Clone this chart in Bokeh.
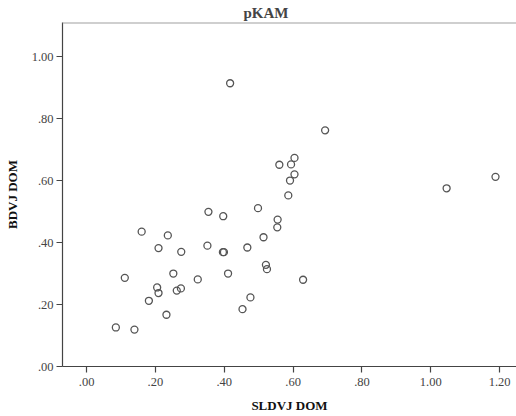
from bokeh.plotting import figure
from bokeh.models import Range1d, Span, FixedTicker
from bokeh.embed import file_html
from bokeh.resources import INLINE

sldvj_dom = [0.417, 0.560, 0.594, 0.604, 0.604, 0.591, 0.586, 0.498, 0.354, 0.397,
             0.555, 0.554, 0.160, 0.236, 0.514, 0.209, 0.275, 0.351, 0.396, 0.399,
             0.467, 0.521, 0.524, 0.252, 0.411, 0.323, 0.629, 0.111, 0.205, 0.209,
             0.262, 0.274, 0.181, 0.476, 0.453, 0.232, 0.085, 0.139, 0.693, 1.188,
             1.046]
bdvj_dom = [0.914, 0.651, 0.652, 0.673, 0.620, 0.600, 0.552, 0.511, 0.499, 0.485,
            0.474, 0.449, 0.435, 0.423, 0.417, 0.382, 0.370, 0.390, 0.369, 0.369,
            0.384, 0.328, 0.314, 0.300, 0.300, 0.281, 0.280, 0.286, 0.255, 0.237,
            0.245, 0.252, 0.212, 0.223, 0.185, 0.167, 0.126, 0.119, 0.762, 0.612,
            0.575]

x_ticks = [0.0, 0.2, 0.4, 0.6, 0.8, 1.0, 1.2]
x_tick_labels = [".00", ".20", ".40", ".60", ".80", "1.00", "1.20"]
y_ticks = [0.0, 0.2, 0.4, 0.6, 0.8, 1.0]
y_tick_labels = [".00", ".20", ".40", ".60", ".80", "1.00"]

title_text = "pKAM"
x_label = "SLDVJ DOM"
y_label = "BDVJ DOM"

serif = "Liberation Serif"

p = figure(width=516, height=416, output_backend="svg", toolbar_location=None,
           x_range=Range1d(-0.070, 1.249), y_range=Range1d(0.0, 1.11),
           min_border_left=62, min_border_right=0, min_border_top=22,
           min_border_bottom=50)

p.title.text = title_text
p.title.text_font = serif
p.title.text_font_size = "15px"
p.title.text_font_style = "bold"
p.title.align = "left"
p.title.offset = 181
p.title.standoff = 3

p.outline_line_color = None
p.background_fill_color = "white"
p.border_fill_color = "white"
p.xgrid.visible = False
p.ygrid.visible = False

top_line = Span(location=1.11, dimension="width", line_color="#a0a0a0", line_width=2)
p.add_layout(top_line)

for ax, ticks, labels in ((p.xaxis[0], x_ticks, x_tick_labels),
                          (p.yaxis[0], y_ticks, y_tick_labels)):
    ax.ticker = FixedTicker(ticks=ticks, minor_ticks=[])
    ax.major_label_overrides = {t: l for t, l in zip(ticks, labels)}
    ax.major_label_text_font = serif
    ax.major_label_text_font_size = "12.5px"
    ax.major_label_text_color = "#444444"
    ax.axis_label_text_font = serif
    ax.axis_label_text_font_size = "13px"
    ax.axis_label_text_font_style = "bold"
    ax.axis_label_text_color = "#111111"
    ax.axis_line_color = "#444444"
    ax.axis_line_width = 1.2
    ax.major_tick_line_color = "#444444"
    ax.major_tick_line_width = 1.2
    ax.major_tick_out = 6
    ax.major_tick_in = 0
    ax.minor_tick_out = 0
    ax.minor_tick_in = 0
    ax.major_label_standoff = 3

p.xaxis.major_label_standoff = 5
p.xaxis.axis_label = x_label
p.yaxis.axis_label = y_label
p.xaxis.axis_label_standoff = 9
p.yaxis.axis_label_standoff = 9

p.scatter(sldvj_dom, bdvj_dom, marker="circle", size=7, fill_color=None,
          line_color="#555555", line_width=1.3)

open("out.html", "w").write(file_html(p, INLINE))
